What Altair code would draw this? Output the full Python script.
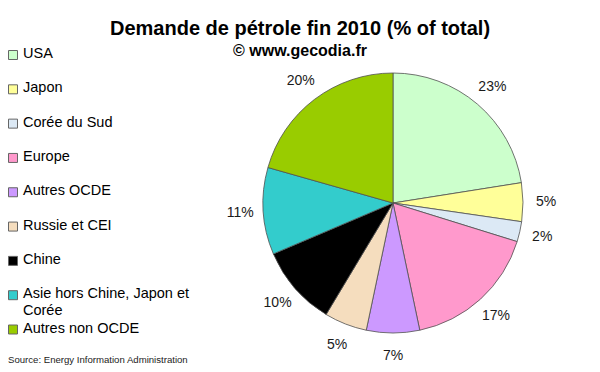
import altair as alt
import pandas as pd

categories = ["USA", "Japon", "Corée du Sud", "Europe", "Autres OCDE",
              "Russie et CEI", "Chine", "Asie hors Chine, Japon et Corée",
              "Autres non OCDE"]
legend_labels = ["USA", "Japon", "Corée du Sud", "Europe", "Autres OCDE",
                 "Russie et CEI", "Chine", "Asie hors Chine, Japon et\nCorée",
                 "Autres non OCDE"]
# slice shares as measured from the slice angles in the picture
values = [22.5, 4.8, 2.5, 16.9, 6.6, 5.3, 10.0, 10.8, 20.6]
# percentage labels as printed on the picture
labels = ["23%", "5%", "2%", "17%", "7%", "5%", "10%", "11%", "20%"]
colors = ["#CCFFCC", "#FFFF99", "#DCE9F5", "#FF99CC", "#CC99FF",
          "#F5DDBE", "#000000", "#33CCCC", "#99CC00"]
source_note = ["Source: Energy Information Administration"]

df = pd.DataFrame({"cat": categories, "value": values,
                   "idx": list(range(len(categories))), "label": labels,
                   "leg": legend_labels})

FONT = "Liberation Sans"
cx, cy = 385, 139

color_scale = alt.Scale(domain=categories, range=colors)
legend_y = alt.Y("cat:N", sort=categories, axis=None,
                 scale=alt.Scale(domain=categories, range=[-9, 265.5], padding=0))

base = alt.Chart(df).encode(
    theta=alt.Theta("value:Q", stack=True),
    order=alt.Order("idx:Q"),
)

pie = base.mark_arc(radius=130, stroke="#505050", strokeWidth=0.8).encode(
    x=alt.value(cx), y=alt.value(cy),
    color=alt.Color("cat:N", scale=color_scale, legend=None),
)

text = base.mark_text(radius=153, font=FONT, fontSize=14, color="#1a1a1a").encode(
    x=alt.value(cx), y=alt.value(cy),
    text="label:N",
)

leg_sq = alt.Chart(df).mark_square(size=81, stroke="#666", strokeWidth=1,
                                   opacity=1).encode(
    x=alt.value(5), y=legend_y,
    color=alt.Color("cat:N", scale=color_scale, legend=None),
)

leg_txt = alt.Chart(df).mark_text(font=FONT, fontSize=14.5, color="#000",
                                  align="left", baseline="top", dy=-8,
                                  lineBreak="\n", lineHeight=17).encode(
    x=alt.value(15), y=legend_y, text="leg:N",
)

src = alt.Chart(pd.DataFrame({"t": source_note})).mark_text(
    font=FONT, fontSize=9.6, color="#222", align="left", baseline="alphabetic"
).encode(x=alt.value(0), y=alt.value(299), text="t:N")

chart = alt.layer(pie, text, leg_sq, leg_txt, src).properties(
    width=584, height=304,
    autosize=alt.AutoSizeParams(type="none"),
    padding={"top": 56, "left": 0, "right": 0, "bottom": 0},
    title=alt.TitleParams(
        text="Demande de pétrole fin 2010 (% of total)",
        subtitle="© www.gecodia.fr",
        anchor="middle", font=FONT, fontSize=20, fontWeight="bold", color="#000",
        subtitleFont=FONT, subtitleFontSize=16, subtitleFontWeight="bold",
        subtitleColor="#000", subtitlePadding=4, offset=-13,
    ),
).configure_view(stroke=None)

chart.save("out.html", embed_options={"renderer": "svg", "actions": False})
